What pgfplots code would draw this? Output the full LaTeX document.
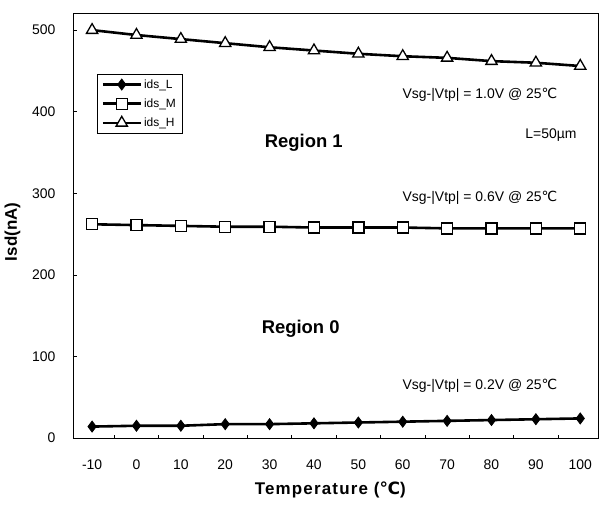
\documentclass[border=0pt]{standalone}
\usepackage{pgfplots}
\pgfplotsset{compat=1.18}
\usepackage{fontspec}
\setmainfont{Liberation Sans}
\newfontfamily\dejavu{DejaVu Sans}
\newfontfamily\widebold[LetterSpace=7]{Liberation Sans Bold}
\newcommand{\degC}{{\dejavu ℃}}
\begin{document}
\begin{tikzpicture}
\path[use as bounding box] (-73bp,-67bp) rectangle (526bp,438bp);
\begin{axis}[
  scale only axis, width=525bp, height=425bp,
  xmin=-0.43, xmax=11.4, ymin=0, ymax=521,
  axis line style={black, line width=0.8bp},
  xtick={0,...,11},
  xticklabels={-10,0,10,20,30,40,50,60,70,80,90,100},
  minor xtick={0.5,1.5,...,10.5},
  major x tick style={draw=none},
  minor tick length=3bp,
  ytick={0,100,...,500},
  major tick length=4bp,
  tick align=inside,
  xtick pos=bottom, ytick pos=left,
  tick style={black, line width=0.6bp},
  /pgf/number format/assume math mode=true,
  ticklabel style={font=\fontsize{14}{16}\selectfont},
  xticklabel style={yshift=-18bp},
  yticklabel style={xshift=-14bp},
  xlabel={\widebold Temperature ({\dejavu\bfseries ℃})},
  xlabel style={font=\fontsize{17}{20}\selectfont, at={(axis description cs:0.49,-0.122)}, anchor=center},
  ylabel={\bfseries Isd(nA)},
  ylabel style={font=\fontsize{17}{20}\selectfont, at={(axis description cs:-0.115,0.485)}, anchor=center},
  legend style={at={(axis description cs:0.046,0.856)}, anchor=north west, draw=black, line width=0.6bp,
    font=\fontsize{12}{14}\selectfont, row sep=5bp, inner xsep=4bp, inner ysep=3bp},
  legend cell align=left,
  legend image code/.code={\draw[#1, mark repeat=2, mark phase=2] plot coordinates {(0bp,0bp) (19bp,0bp) (38bp,0bp)};},
]
\addplot[black, line width=2.6bp, mark=diamond*, mark size=5.5bp, mark options={fill=black, line width=0.8bp}]
coordinates {(0,14) (1,15) (2,15) (3,17) (4,17) (5,18) (6,19) (7,20) (8,21) (9,22) (10,23) (11,24)};
\addlegendentry{ids\_L}
\addplot[black, line width=2.6bp, mark=square*, mark size=5.5bp, mark options={fill=white, line width=1.3bp}]
coordinates {(0,262) (1,261) (2,260) (3,259) (4,259) (5,258) (6,258) (7,258) (8,257) (9,257) (10,257) (11,257)};
\addlegendentry{ids\_M}
\addplot[black, line width=2.6bp, mark=triangle*, mark size=6.5bp, mark options={fill=white, line width=1.3bp}]
coordinates {(0,500) (1,494) (2,489) (3,484) (4,479) (5,475) (6,471) (7,468) (8,466) (9,462) (10,460) (11,456)};
\addlegendentry{ids\_H}
\node[font=\fontsize{14}{16}\selectfont] at (axis cs:8.74,421) {Vsg-|Vtp| = 1.0V @ 25\degC};
\node[font=\bfseries\fontsize{18.5}{21}\selectfont] at (axis cs:4.77,362) {Region 1};
\node[font=\fontsize{14}{16}\selectfont] at (axis cs:10.34,371) {L=50\textmu m};
\node[font=\fontsize{14}{16}\selectfont] at (axis cs:8.74,295) {Vsg-|Vtp| = 0.6V @ 25\degC};
\node[font=\bfseries\fontsize{18.5}{21}\selectfont] at (axis cs:4.7,134) {Region 0};
\node[font=\fontsize{14}{16}\selectfont] at (axis cs:8.74,64) {Vsg-|Vtp| = 0.2V @ 25\degC};
\end{axis}
\end{tikzpicture}
\end{document}
